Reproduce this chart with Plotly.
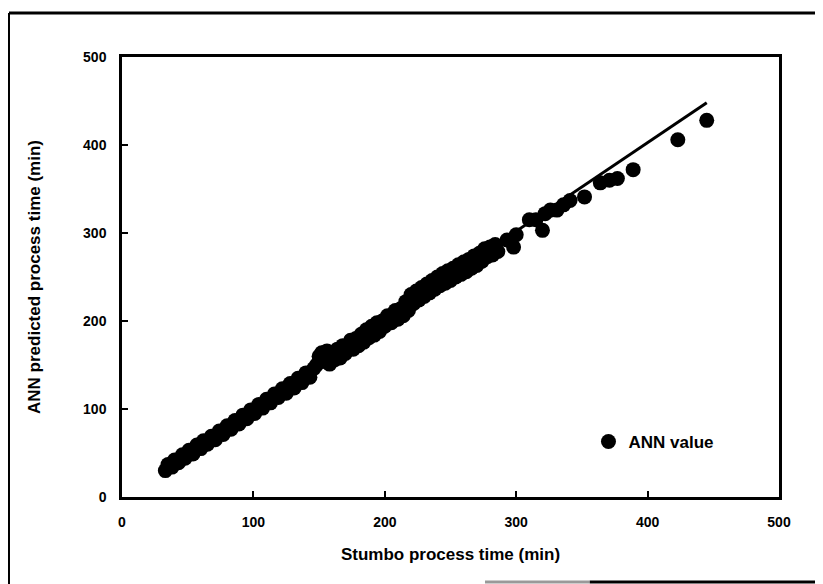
import plotly.graph_objects as go

# ANN predicted vs Stumbo process time (min)
stumbo_x = [33, 35, 38, 40, 43, 46, 48, 51, 54, 57, 60, 62, 65, 68, 71, 74, 77, 80,
            83, 86, 89, 92, 95, 98, 101, 104, 107, 110, 113, 116, 119, 122, 125,
            128, 131, 134, 137, 140, 143, 146,
            148, 150, 152, 154, 156, 158, 160, 162, 164, 166, 168, 170, 172, 174,
            176, 178, 180, 182, 184, 186, 188, 190, 192, 194, 196, 198, 200,
            202, 205, 208, 210, 212, 214, 216, 218, 220, 222, 224, 226, 228, 230,
            232, 234, 236, 238, 240, 242, 244, 246, 248, 250, 252, 254, 256, 258,
            260, 262, 264, 266, 268, 270, 272, 274, 276, 278, 280, 282, 284, 286,
            293, 298, 300, 310, 315, 320, 322, 326, 331, 336, 341, 352, 364, 371,
            377, 389, 423, 445]
ann_y = [30, 37, 34, 42, 39, 48, 44, 53, 49, 59, 55, 64, 60, 69, 65, 75, 71, 81,
         77, 87, 83, 93, 89, 99, 95, 105, 101, 111, 107, 117, 113, 123, 118,
         129, 124, 135, 130, 141, 136, 146,
         150, 160, 164, 154, 166, 151, 162, 156, 168, 158, 172, 163, 170, 178,
         168, 180, 172, 185, 176, 190, 181, 194, 184, 198, 188, 200, 194,
         206, 198, 212, 202, 214, 206, 222, 212, 230, 220, 234, 224, 238, 228,
         242, 232, 246, 236, 250, 240, 254, 243, 257, 246, 260, 250, 264, 253,
         267, 256, 270, 260, 274, 263, 277, 268, 282, 273, 284, 275, 287, 279,
         292, 284, 298, 315, 315, 303, 322, 326, 326, 332, 337, 341, 357, 360,
         362, 372, 406, 428]

line_x = [30, 445]
line_y = [30, 448]

x_ticks = [0, 100, 200, 300, 400, 500]
y_ticks = [0, 100, 200, 300, 400, 500]

FONT = "Liberation Sans"

fig = go.Figure()
fig.add_trace(go.Scatter(x=line_x, y=line_y, mode="lines",
                         line=dict(color="black", width=3), showlegend=False,
                         hoverinfo="skip"))
fig.add_trace(go.Scatter(x=stumbo_x, y=ann_y, mode="markers", name="ANN value",
                         marker=dict(color="black", size=15)))

axis_common = dict(range=[0, 500], showgrid=False, zeroline=False, showline=True,
                   linecolor="black", linewidth=2.5, mirror=True, automargin=False,
                   ticks="inside", ticklen=6, tickwidth=2, tickcolor="black",
                   tickfont=dict(family=FONT, size=14, color="black", weight="bold"))

fig.update_xaxes(**axis_common, tickvals=x_ticks, ticklabelstandoff=10,
                 title=dict(text="Stumbo process time (min)", standoff=20,
                            font=dict(family=FONT, size=17, color="black", weight="bold")))
fig.update_yaxes(**axis_common, tickvals=y_ticks, ticklabelstandoff=10,
                 title=dict(text="ANN predicted process time (min)", standoff=39,
                            font=dict(family=FONT, size=17, color="black", weight="bold")))

# page body has an 8px margin: margins offset so the plot lands where the reference has it
fig.update_layout(
    width=823, height=584,
    margin=dict(l=114, r=52, t=49, b=95),
    paper_bgcolor="white", plot_bgcolor="white",
    showlegend=True,
    legend=dict(x=0.71, y=0.125, xanchor="left", yanchor="middle",
                bgcolor="rgba(0,0,0,0)",
                font=dict(family=FONT, size=17, color="black", weight="bold"),
                itemwidth=30),
    shapes=[
        dict(type="line", xref="paper", yref="paper", x0=-0.172, x1=1.08,
             y0=1.1, y1=1.1, line=dict(color="black", width=3)),
        dict(type="line", xref="paper", yref="paper", x0=-0.172, x1=-0.172,
             y0=1.1, y1=-0.2, line=dict(color="black", width=2)),
        dict(type="line", xref="paper", yref="paper", x0=0.5525, x1=0.712,
             y0=-0.193, y1=-0.193, line=dict(color="#999999", width=3)),
        dict(type="line", xref="paper", yref="paper", x0=0.712, x1=1.08,
             y0=-0.193, y1=-0.193, line=dict(color="black", width=3)),
    ],
)

fig.write_html("out.html")
